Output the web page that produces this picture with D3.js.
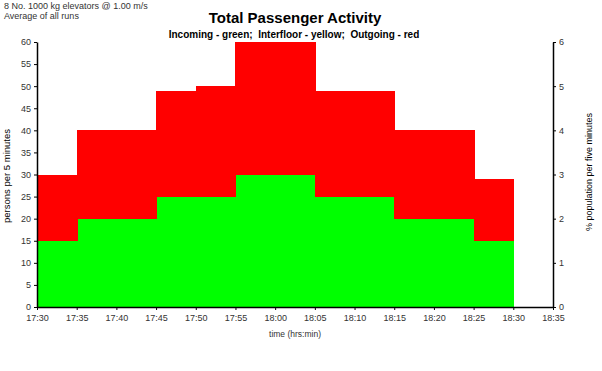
<!DOCTYPE html>
<html><head><meta charset="utf-8">
<script src="https://cdn.jsdelivr.net/npm/d3@7"></script>
<style>
body{margin:0;background:#fff;}
svg{display:block;font-family:"Liberation Sans",Arial,sans-serif;}
</style></head>
<body><svg id="c" width="602" height="371"></svg>
<script>
const periodStarts = ["17:30","17:35","17:40","17:45","17:50","17:55","18:00","18:05","18:10","18:15","18:20","18:25"];
const incoming   = [15,20,20,25,25,30,30,25,25,20,20,15];
const interfloor = [0,0,0,0,0,0,0,0,0,0,0,0];
const outgoing   = [15,20,20,24,25,30,30,24,24,20,20,14];
const xTickLabels = ["17:30","17:35","17:40","17:45","17:50","17:55","18:00","18:05","18:10","18:15","18:20","18:25","18:30","18:35"];
const leftTicks = [0,5,10,15,20,25,30,35,40,45,50,55,60];
const rightTicks = [0,1,2,3,4,5,6];

const svg = d3.select("#c");
const L=37,R=553,T=42,B=307;
const x = d3.scaleLinear().domain([0, xTickLabels.length-1]).range([L,R]);
const y = d3.scaleLinear().domain([0,60]).range([B,T]);
const y2 = d3.scaleLinear().domain([0,6]).range([B,T]);

const rows = periodStarts.map((p,i)=>({i, incoming:incoming[i], interfloor:interfloor[i], outgoing:outgoing[i]}));
const stack = d3.stack().keys(["incoming","interfloor","outgoing"])(rows);
const colors = {incoming:"#00ff00", interfloor:"#ffff00", outgoing:"#ff0000"};

stack.forEach(layer=>{
  svg.append("g").attr("shape-rendering","crispEdges").selectAll("rect").data(layer).join("rect")
    .attr("x", d=>Math.round(x(d.data.i)))
    .attr("width", d=>Math.round(x(d.data.i+1))-Math.round(x(d.data.i))+1)
    .attr("y", d=>Math.round(y(d[1])))
    .attr("height", d=>Math.max(0,Math.round(y(d[0]))-Math.round(y(d[1]))))
    .attr("fill", colors[layer.key]);
});

const fs = "9px";
const xAxis = d3.axisBottom(x).tickValues(d3.range(xTickLabels.length)).tickFormat(i=>xTickLabels[i]).tickSize(3).tickSizeOuter(0);
const gx = svg.append("g").attr("transform",`translate(0,${B})`).call(xAxis);
const yAxis = d3.axisLeft(y).tickValues(leftTicks).tickFormat(d3.format("d")).tickSize(3).tickSizeOuter(0);
const gy = svg.append("g").attr("transform",`translate(${L},0)`).call(yAxis);
const y2Axis = d3.axisRight(y2).tickValues(rightTicks).tickFormat(d3.format("d")).tickSize(3).tickSizeOuter(0);
const gy2 = svg.append("g").attr("transform",`translate(${R},0)`).call(y2Axis);
[gx,gy,gy2].forEach(g=>{
  g.selectAll("path").attr("stroke","#000").attr("stroke-width",1.5);
  g.selectAll("line").attr("stroke","#000").attr("stroke-width",1);
  g.selectAll("text").attr("fill","#333").style("font-size",fs).style("font-family","'Liberation Sans',Arial,sans-serif");
});
gx.selectAll("text").attr("dy","0.9em");

svg.append("text").attr("x",4).attr("y",9).style("font-size","9px").attr("fill","#333").text("8 No. 1000 kg elevators @ 1.00 m/s");
svg.append("text").attr("x",4).attr("y",19).style("font-size","9px").attr("fill","#333").text("Average of all runs");
svg.append("text").attr("x",295).attr("y",23).attr("text-anchor","middle").style("font-size","15px").style("font-weight","bold").text("Total Passenger Activity");
svg.append("text").attr("x",294).attr("y",38).attr("text-anchor","middle").style("font-size","10px").style("font-weight","bold").attr("xml:space","preserve").text("Incoming - green;  Interfloor - yellow;  Outgoing - red");
svg.append("text").attr("x",295).attr("y",337).attr("text-anchor","middle").style("font-size","8.5px").attr("fill","#333").text("time (hrs:min)");
svg.append("text").attr("transform","translate(10,176) rotate(-90)").attr("text-anchor","middle").style("font-size","9.5px").text("persons per 5 minutes");
svg.append("text").attr("transform","translate(592,172) rotate(-90)").attr("text-anchor","middle").style("font-size","9px").text("% population per five minutes");
</script></body></html>
